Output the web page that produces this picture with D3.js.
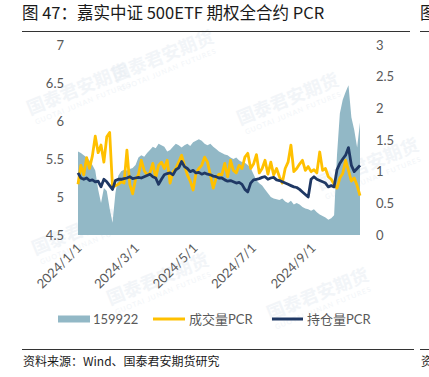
<!DOCTYPE html>
<html>
<head>
<meta charset="utf-8">
<script src="https://cdn.jsdelivr.net/npm/d3@7"></script>
<style>
  body { margin: 0; background: #fff; }
  svg { display: block; font-family: Lato, "Noto Sans CJK SC", sans-serif; }
</style>
</head>
<body>
<div id="chart"></div>
<script>
// sampled every 3 calendar days starting 2024-01-01
const startDate = new Date(2024, 0, 1);
const stepDays = 3;

// 159922 price (left axis)
const etfPrice = [5.60, 5.58, 5.55, 5.52, 5.48, 5.42, 5.35, 5.10, 4.92, 5.12,
  5.08, 4.85, 4.66, 5.05, 5.28, 5.34, 5.36, 5.35, 5.37, 5.38,
  5.42, 5.52, 5.55, 5.53, 5.58, 5.62, 5.66, 5.64, 5.70, 5.68,
  5.66, 5.60, 5.62, 5.66, 5.70, 5.68, 5.65, 5.68, 5.70, 5.67,
  5.72, 5.74, 5.76, 5.74, 5.70, 5.68, 5.70, 5.66, 5.63, 5.60,
  5.58, 5.56, 5.55, 5.52, 5.50, 5.52, 5.48, 5.46, 5.45, 5.42,
  5.38, 5.30, 5.22, 5.18, 5.15, 5.10, 5.05, 5.00, 4.98, 4.97,
  4.96, 4.98, 4.94, 4.92, 4.95, 4.90, 4.92, 4.90, 4.87, 4.85,
  4.84, 4.82, 4.84, 4.80, 4.77, 4.75, 4.73, 4.70, 4.72, 4.76,
  5.55, 6.10, 6.28, 6.38, 6.47, 6.05, 5.88, 5.65, 5.98];

// 成交量PCR (right axis)
const volumePcr = [0.80, 1.10, 0.95, 1.22, 1.05, 1.25, 1.56, 1.30, 1.42, 1.15,
  1.55, 1.62, 0.75, 0.78, 0.80, 0.84, 0.82, 1.34, 0.80, 0.65,
  0.88, 0.95, 1.18, 1.02, 0.95, 0.98, 1.13, 0.90, 1.10, 1.15,
  1.05, 1.18, 0.82, 1.00, 1.05, 1.15, 1.26, 1.10, 0.95, 0.85,
  0.71, 0.98, 1.05, 1.10, 1.23, 1.15, 0.95, 0.74, 0.90, 0.96,
  0.95, 1.13, 0.92, 1.18, 1.02, 0.98, 1.10, 1.05, 1.23, 1.29,
  1.05, 1.12, 1.27, 0.98, 1.05, 1.18, 0.96, 1.15, 0.95, 1.05,
  0.92, 0.82, 1.05, 1.15, 1.42, 1.00, 1.05, 1.12, 1.18, 1.02,
  1.08, 1.00, 1.03, 0.98, 1.31, 1.02, 1.05, 0.92, 0.88, 0.80,
  0.74, 0.90, 0.97, 1.18, 1.02, 0.85, 0.90, 0.78, 0.62];

// 持仓量PCR (right axis)
const openIntPcr = [0.98, 0.90, 0.88, 0.90, 0.86, 0.87, 0.84, 0.85, 0.76, 0.88,
  0.84, 0.78, 0.72, 0.86, 0.88, 0.88, 0.89, 0.90, 0.92, 0.89,
  0.90, 0.91, 0.90, 0.92, 0.94, 0.96, 0.92, 0.90, 0.80, 0.88,
  0.95, 0.97, 0.98, 0.95, 1.03, 1.06, 1.16, 1.08, 1.05, 1.00,
  1.02, 0.98, 0.99, 0.96, 0.98, 0.96, 0.95, 0.93, 0.92, 0.90,
  0.90, 0.87, 0.85, 0.86, 0.84, 0.82, 0.83, 0.80, 0.72, 0.68,
  0.82, 0.87, 0.88, 0.89, 0.91, 0.92, 0.88, 0.90, 0.91, 0.87,
  0.86, 0.84, 0.82, 0.80, 0.78, 0.76, 0.75, 0.72, 0.68, 0.64,
  0.60, 0.88, 0.92, 0.88, 0.86, 0.84, 0.82, 0.76, 0.78, 0.76,
  1.03, 1.13, 1.20, 1.26, 1.38, 1.10, 1.00, 1.05, 1.10];

const leftTicks = [4.5, 5, 5.5, 6, 6.5, 7];
const rightTicks = [0, 0.5, 1, 1.5, 2, 2.5, 3];
const xTickLabels = ["2024/1/1", "2024/3/1", "2024/5/1", "2024/7/1", "2024/9/1"];
const seriesNames = ["159922", "成交量PCR", "持仓量PCR"];

const W = 429, H = 377;
const colors = {area: "#92b8c6", vol: "#ffc000", oi: "#1f3864", text: "#595959"};

const parseTick = d3.timeParse("%Y/%m/%d");
const data = etfPrice.map((v, i) => ({
  date: d3.timeDay.offset(startDate, i * stepDays),
  etf: v,
  vol: volumePcr[i],
  oi: openIntPcr[i]
}));

const svg = d3.select("#chart").append("svg")
  .attr("width", W)
  .attr("height", H);

// faint watermarks
const marks = [[165, 62], [290, 105], [80, 95], [85, 235], [160, 285], [320, 300], [370, 170]];
marks.forEach(m => {
  const g = svg.append("g").attr("transform", `translate(${m[0]},${m[1]}) rotate(-22)`)
    .attr("opacity", 0.45);
  g.append("text").attr("text-anchor", "middle")
    .attr("font-size", 18).attr("font-weight", "bold")
    .attr("font-family", "Noto Sans CJK SC")
    .attr("fill", "#e3eaf1").text("国泰君安期货");
  g.append("text").attr("text-anchor", "middle").attr("y", 11)
    .attr("font-size", 7).attr("letter-spacing", 1)
    .attr("fill", "#e3eaf1").text("GUOTAI JUNAN FUTURES");
});

// title and footer
svg.append("text")
  .attr("x", 22).attr("y", 19)
  .attr("font-family", "Noto Sans CJK SC")
  .attr("font-size", 16.5)
  .attr("fill", "#1a1a1a")
  .text("图 47：嘉实中证 500ETF 期权全合约 PCR");
svg.append("text")
  .attr("x", 420).attr("y", 19)
  .attr("font-family", "Noto Sans CJK SC")
  .attr("font-size", 16.5)
  .attr("fill", "#1a1a1a")
  .text("图");
svg.append("line").attr("x1", 22).attr("x2", 410).attr("y1", 31.5).attr("y2", 31.5)
  .attr("stroke", "#333").attr("stroke-width", 1);
svg.append("line").attr("x1", 420).attr("x2", 429).attr("y1", 31.5).attr("y2", 31.5)
  .attr("stroke", "#333").attr("stroke-width", 1);

svg.append("line").attr("x1", 22).attr("x2", 414).attr("y1", 349.5).attr("y2", 349.5)
  .attr("stroke", "#333").attr("stroke-width", 1);
svg.append("line").attr("x1", 420).attr("x2", 429).attr("y1", 349.5).attr("y2", 349.5)
  .attr("stroke", "#333").attr("stroke-width", 1);
svg.append("text")
  .attr("x", 23).attr("y", 366)
  .attr("font-family", "Noto Sans CJK SC")
  .attr("font-size", 12)
  .attr("fill", "#1a1a1a")
  .text("资料来源：Wind、国泰君安期货研究");
svg.append("text")
  .attr("x", 421).attr("y", 366)
  .attr("font-family", "Noto Sans CJK SC")
  .attr("font-size", 12)
  .attr("fill", "#1a1a1a")
  .text("资");

// scales
const x = d3.scaleTime()
  .domain([startDate, d3.timeDay.offset(startDate, (etfPrice.length - 1) * stepDays)])
  .range([78, 360]);
const yLeft = d3.scaleLinear().domain([4.5, 7]).range([235, 45]);
const yRight = d3.scaleLinear().domain([0, 3]).range([235, 45]);

// area
const area = d3.area()
  .x(d => x(d.date))
  .y0(yLeft(4.5))
  .y1(d => yLeft(d.etf));
svg.append("path")
  .datum(data)
  .attr("d", area)
  .attr("fill", colors.area);

const volLine = d3.line().x(d => x(d.date)).y(d => yRight(d.vol));
const oiLine = d3.line().x(d => x(d.date)).y(d => yRight(d.oi));

svg.append("path")
  .datum(data)
  .attr("d", volLine)
  .attr("fill", "none")
  .attr("stroke", colors.vol)
  .attr("stroke-width", 2.8)
  .attr("stroke-linejoin", "round");

svg.append("path")
  .datum(data)
  .attr("d", oiLine)
  .attr("fill", "none")
  .attr("stroke", colors.oi)
  .attr("stroke-width", 2.8)
  .attr("stroke-linejoin", "round");

// axes
const leftAxis = svg.append("g")
  .attr("transform", "translate(70,0)")
  .call(d3.axisLeft(yLeft).tickValues(leftTicks).tickFormat(d3.format("")).tickSize(0).tickPadding(6));
const rightAxis = svg.append("g")
  .attr("transform", "translate(370,0)")
  .call(d3.axisRight(yRight).tickValues(rightTicks).tickFormat(d3.format("")).tickSize(0).tickPadding(6));
const bottomAxis = svg.append("g")
  .attr("transform", "translate(0,235)")
  .call(d3.axisBottom(x).tickValues(xTickLabels.map(parseTick)).tickFormat(d3.timeFormat("%Y/%-m/%-d")).tickSize(0));

[leftAxis, rightAxis, bottomAxis].forEach(a => {
  a.select(".domain").remove();
  a.selectAll("text")
    .attr("fill", colors.text)
    .attr("font-size", 13)
    .attr("font-family", "Lato, sans-serif");
});
bottomAxis.selectAll("text")
  .attr("text-anchor", "end")
  .attr("dy", 0)
  .attr("y", 0)
  .attr("transform", "translate(4,14) rotate(-45)");

// legend
const legend = svg.append("g").attr("transform", "translate(0,319)");
legend.append("rect").attr("x", 58).attr("y", -3.5).attr("width", 32).attr("height", 7)
  .attr("fill", colors.area);
legend.append("line").attr("x1", 153).attr("x2", 185).attr("y1", 0).attr("y2", 0)
  .attr("stroke", colors.vol).attr("stroke-width", 3);
legend.append("line").attr("x1", 272).attr("x2", 303).attr("y1", 0).attr("y2", 0)
  .attr("stroke", colors.oi).attr("stroke-width", 3);
[[93, seriesNames[0]], [189, seriesNames[1]], [307, seriesNames[2]]].forEach(t => {
  legend.append("text")
    .attr("x", t[0]).attr("y", 0).attr("dy", "0.35em")
    .attr("font-size", 13)
    .attr("fill", colors.text)
    .text(t[1]);
});
</script>
</body>
</html>
